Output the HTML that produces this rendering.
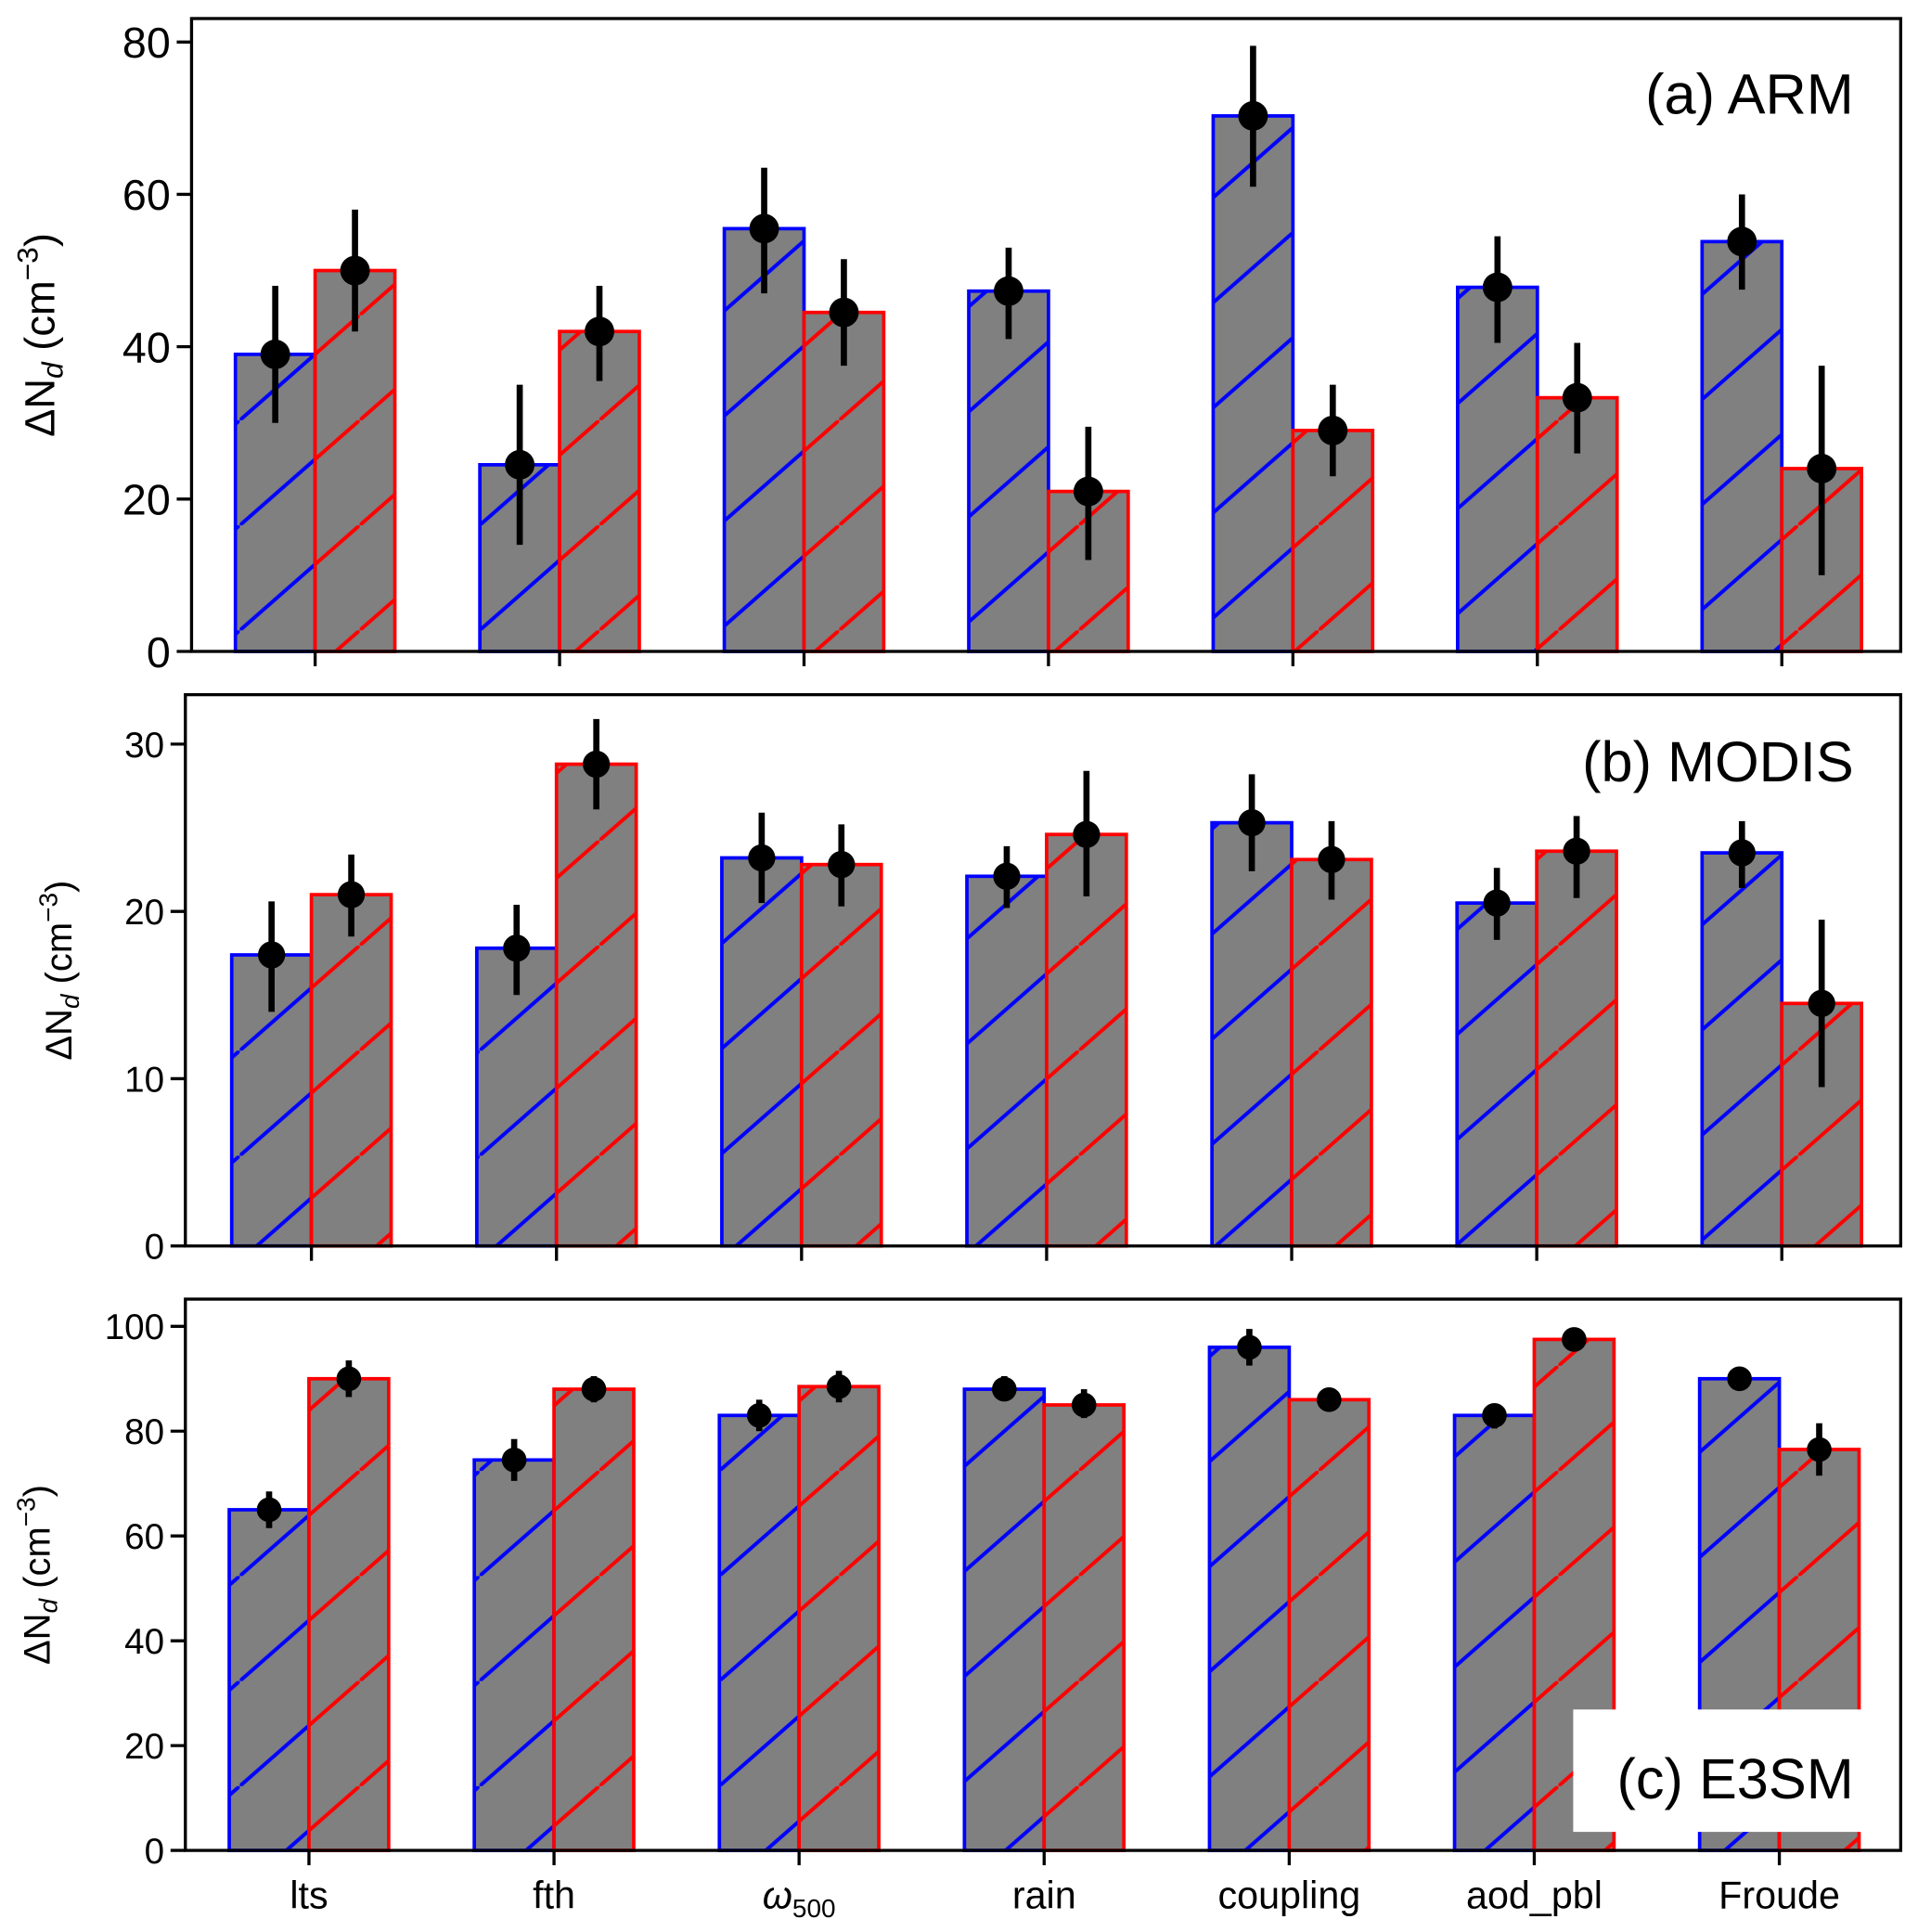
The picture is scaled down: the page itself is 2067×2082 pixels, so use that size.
<!DOCTYPE html>
<html><head><meta charset="utf-8"><style>
html,body{margin:0;padding:0;background:#fff;}
svg{display:block;font-family:"Liberation Sans","DejaVu Sans",sans-serif;}
</style></head><body>
<svg id="chart" width="2067" height="2082" viewBox="0 0 1552 1563" preserveAspectRatio="none" xmlns="http://www.w3.org/2000/svg">
<defs>
<pattern id="hb" patternUnits="userSpaceOnUse" width="97" height="85"><rect width="97" height="85" fill="#808080"/><line x1="-10" y1="93.8" x2="107" y2="-8.8" stroke="#0000ff" stroke-width="3"/></pattern>
<pattern id="hr" patternUnits="userSpaceOnUse" width="97" height="85"><rect width="97" height="85" fill="#808080"/><line x1="-10" y1="93.8" x2="107" y2="-8.8" stroke="#ff0000" stroke-width="3"/></pattern>
</defs>
<g id="root"></g>
</svg>
<script>
const categories = ["lts","fth","ω500","rain","coupling","aod_pbl","Froude"];
// panel a ARM
const armBlue = [39, 24.5, 55.5, 47.3, 70.3, 47.8, 53.8];
const armRed = [50, 42, 44.5, 21, 29, 33.3, 24];
const armBlueLo = [30, 14, 47, 41, 61, 40.5, 47.5];
const armBlueHi = [48, 35, 63.5, 53, 79.5, 54.5, 60];
const armRedLo = [42, 35.5, 37.5, 12, 23, 26, 10];
const armRedHi = [58, 48, 51.5, 29.5, 35, 40.5, 37.5];
const armTicks = [0, 20, 40, 60, 80];
// panel b MODIS
const modBlue = [17.4, 17.8, 23.2, 22.1, 25.3, 20.5, 23.5];
const modRed = [21, 28.8, 22.8, 24.6, 23.1, 23.6, 14.5];
const modBlueLo = [14, 15, 20.5, 20.2, 22.4, 18.3, 21.4];
const modBlueHi = [20.6, 20.4, 25.9, 23.9, 28.2, 22.6, 25.4];
const modRedLo = [18.5, 26.1, 20.3, 20.9, 20.7, 20.8, 9.5];
const modRedHi = [23.4, 31.5, 25.2, 28.4, 25.4, 25.7, 19.5];
const modTicks = [0, 10, 20, 30];
// panel c E3SM
const e3Blue = [65, 74.5, 83, 88, 96, 83, 90];
const e3Red = [90, 88, 88.5, 85, 86, 97.5, 76.5];
const e3BlueLo = [61.5, 70.5, 80, 86, 92.5, 80.5, 88.5];
const e3BlueHi = [68.5, 78.5, 86, 90.5, 99.5, 85, 91];
const e3RedLo = [86.5, 85.5, 85.5, 82.5, 84, 95.5, 71.5];
const e3RedHi = [93.5, 90.5, 91.5, 88, 88, 99.5, 81.5];
const e3Ticks = [0, 20, 40, 60, 80, 100];

const NS = "http://www.w3.org/2000/svg";
const root = document.getElementById("root");
function mk(tag, attrs, parent){const e=document.createElementNS(NS,tag);for(const k in attrs)e.setAttribute(k,attrs[k]);(parent||root).appendChild(e);return e;}

const panels = [
 {key:"arm", title:"(a) ARM", left:155, right:1538, top:15, bottom:527, y0:527, ymaxPx:34, ymaxVal:80, x0:255, step:197.8, ticks:armTicks, blue:armBlue, red:armRed, bl:armBlueLo, bh:armBlueHi, rl:armRedLo, rh:armRedHi, tfs:35, lblx:44, lfs:34, titleX:1500, titleY:92, tsz:46, r:12, xlabels:false},
 {key:"modis", title:"(b) MODIS", left:150, right:1538, top:562, bottom:1008, y0:1008, ymaxPx:602, ymaxVal:30, x0:252, step:198.3, ticks:modTicks, blue:modBlue, red:modRed, bl:modBlueLo, bh:modBlueHi, rl:modRedLo, rh:modRedHi, tfs:29, lblx:58, lfs:30, titleX:1500, titleY:632, tsz:46, r:11, xlabels:false},
 {key:"e3sm", title:"(c) E3SM", left:150, right:1538, top:1051, bottom:1497, y0:1497, ymaxPx:1073, ymaxVal:100, x0:250, step:198.3, ticks:e3Ticks, blue:e3Blue, red:e3Red, bl:e3BlueLo, bh:e3BlueHi, rl:e3RedLo, rh:e3RedHi, tfs:29, lblx:40, lfs:30, titleX:1500, titleY:1455, tsz:46, r:10, xlabels:true}
];
const bw = 64.5;

panels.forEach(p=>{
  const g = mk("g",{});
  
  
  const yS = v => p.y0 - v*(p.y0-p.ymaxPx)/p.ymaxVal;
  const xS = i => p.x0 + i*p.step;
  categories.forEach((c,i)=>{
    const cx = xS(i);
    [[p.blue,"#0000ff","hb",-1,p.bl,p.bh,"blue"],[p.red,"#ff0000","hr",0,p.rl,p.rh,"red"]].forEach(s=>{
      const v = s[0][i];
      const bx = cx + s[3]*bw;
      const b = mk("rect",{x:bx,y:yS(v),width:bw,height:p.y0-yS(v),fill:"url(#"+s[2]+")",stroke:s[1],"stroke-width":2.8},g);
      
      
      const mx = bx + bw/2;
      const el = mk("line",{x1:mx,x2:mx,y1:yS(s[4][i]),y2:yS(s[5][i]),stroke:"#000","stroke-width":5},g);
      
      
      const d = mk("ellipse",{cx:mx,cy:yS(v),rx:p.r,ry:p.r,fill:"#000"},g);
      
      
    });
    const tk = mk("line",{x1:cx,x2:cx,y1:p.bottom,y2:p.bottom+12,stroke:"#000","stroke-width":2.5},g);
    
    
    if(p.xlabels){
      const t = mk("text",{x:cx,y:p.bottom+47,"font-size":31,"text-anchor":"middle"},g);
      
      
      if(c==="ω500"){
        const a=mk("tspan",{"font-style":"italic"},t);a.textContent="ω";
        const b2=mk("tspan",{"font-size":21,dy:7},t);b2.textContent="500";
      } else t.textContent=c;
    }
  });
  p.ticks.forEach(v=>{
    const y=yS(v);
    const tk=mk("line",{x1:p.left-12,x2:p.left,y1:y,y2:y,stroke:"#000","stroke-width":2.5},g);
    
    
    const t=mk("text",{x:p.left-17,y:y+p.tfs*0.36,"font-size":p.tfs,"text-anchor":"end"},g);
    
    
    t.textContent=v;
  });
  const fr=mk("rect",{x:p.left,y:p.top,width:p.right-p.left,height:p.bottom-p.top,fill:"none",stroke:"#000","stroke-width":2.5},g);
  
  
  const cy=(p.top+p.bottom)/2;
  const yl=mk("text",{x:p.lblx,y:cy,"font-size":p.lfs,"text-anchor":"middle",transform:"rotate(-90 "+p.lblx+" "+cy+")"},g);
  
  
  let s=mk("tspan",{},yl);s.textContent="ΔN";
  s=mk("tspan",{"font-style":"italic","font-size":p.lfs*0.7,dy:p.lfs*0.2},yl);s.textContent="d";
  s=mk("tspan",{dy:-p.lfs*0.2},yl);s.textContent=" (cm";
  s=mk("tspan",{"font-size":p.lfs*0.7,dy:-p.lfs*0.4},yl);s.textContent="−3";
  s=mk("tspan",{dy:p.lfs*0.4},yl);s.textContent=")";
  if(p.key==="e3sm"){
    const bg=mk("rect",{x:1273,y:1383,width:240,height:99,fill:"#fff"},g);
    
    
  }
  const tt=mk("text",{x:p.titleX,y:p.titleY,"font-size":p.tsz,"text-anchor":"end"},g);
  
  
  tt.textContent=p.title;
});
</script>
</body></html>
